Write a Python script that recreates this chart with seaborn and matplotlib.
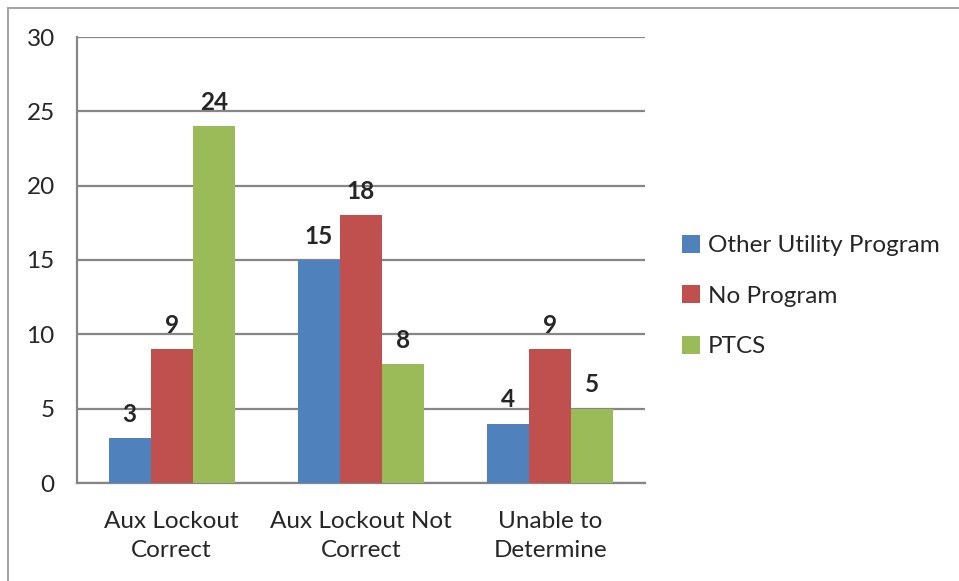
import pandas as pd
import matplotlib.pyplot as plt
import seaborn as sns
from matplotlib.lines import Line2D

# Chart data
categories = ['Aux Lockout\nCorrect', 'Aux Lockout Not\nCorrect', 'Unable to\nDetermine']
series = ['Other Utility Program', 'No Program', 'PTCS']
other_utility = [3, 15, 4]
no_program = [9, 18, 9]
ptcs = [24, 8, 5]
colors = ['#4F81BD', '#C0504D', '#9BBB59']

df = pd.DataFrame({
    'category': categories * 3,
    'series': [series[0]] * 3 + [series[1]] * 3 + [series[2]] * 3,
    'value': other_utility + no_program + ptcs,
})

sns.set_style('white')
plt.rcParams['font.family'] = ['Lato', 'DejaVu Sans']
fs = 17.5

fig = plt.figure(figsize=(9.59, 5.81), dpi=100)
ax = fig.add_axes([77 / 959, 1 - 483 / 581, (645 - 77) / 959, (483 - 37) / 581])

sns.barplot(data=df, x='category', y='value', hue='series', palette=colors,
            width=0.667, saturation=1, linewidth=0, ax=ax, zorder=3)

# Data labels
for container in ax.containers:
    ax.bar_label(container, fontsize=fs, fontweight='bold', padding=9)

grid_color = '#868686'
ax.set_ylim(0, 30)
ax.set_yticks(range(0, 31, 5))
ax.yaxis.grid(True, color=grid_color, linewidth=1.6, zorder=0)
ax.set_xlim(-0.5, 2.5)

# Category boundaries as major ticks, labels on minor ticks
ax.set_xticks([-0.5, 0.5, 1.5, 2.5])
ax.set_xticklabels([])
ax.set_xticks([0, 1, 2], minor=True)
ax.set_xticklabels(categories, minor=True, fontsize=fs, linespacing=1.5)
ax.tick_params(axis='x', which='major', length=8, width=1.6, color=grid_color, direction='out')
ax.tick_params(axis='x', which='minor', length=0, pad=20)
ax.tick_params(axis='y', length=7, width=1.6, color=grid_color, labelsize=fs, pad=9)

for side in ['top', 'right']:
    ax.spines[side].set_visible(False)
for side in ['left', 'bottom']:
    ax.spines[side].set_color(grid_color)
    ax.spines[side].set_linewidth(1.6)

ax.set_xlabel('')
ax.set_ylabel('')

leg = ax.legend(loc='center left', bbox_to_anchor=(682 / 959, 1 - 296 / 581),
                bbox_transform=fig.transFigure, frameon=False, fontsize=fs,
                handlelength=0.75, handleheight=0.75, handletextpad=0.3,
                labelspacing=1.2, borderaxespad=0, borderpad=0)

# Outer chart border
border = '#A6A6A6'
fig.add_artist(Line2D([8 / 959, 8 / 959], [0, 1 - 8 / 581], color=border, lw=1.5))
fig.add_artist(Line2D([8 / 959, 1], [1 - 8 / 581, 1 - 8 / 581], color=border, lw=1.5))

fig.savefig('out.png', dpi=100)
